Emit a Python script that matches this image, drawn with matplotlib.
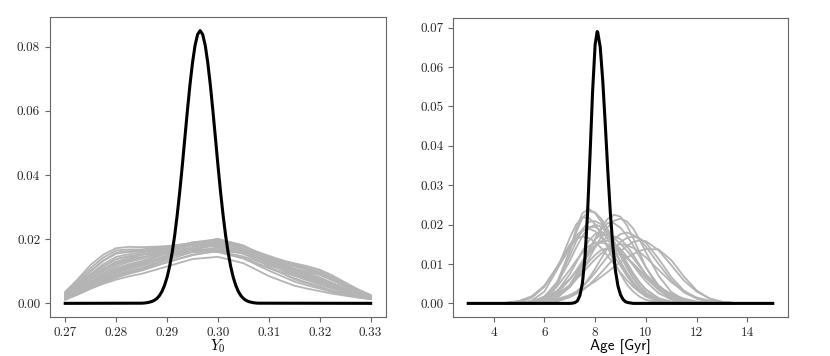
import numpy as np
import matplotlib
matplotlib.use("Agg")
import matplotlib.pyplot as plt

plt.rcParams['font.family'] = 'serif'
plt.rcParams['font.serif'] = ['cmr10', 'DejaVu Serif']
plt.rcParams['mathtext.fontset'] = 'cm'
plt.rcParams['axes.formatter.use_mathtext'] = True

# ---- left panel: Y0 ----
y0_grid = [0.270, 0.2725, 0.275, 0.2775, 0.280, 0.2825, 0.285, 0.290, 0.295,
           0.300, 0.305, 0.310, 0.315, 0.3175, 0.320, 0.3225, 0.325, 0.3275, 0.330]
# gray curves, values in units of 1e-3
y0_curves = [
    [3.6, 7.6, 12.0, 15.2, 17.2, 17.6, 17.5, 17.8, 18.2, 17.6, 15.8, 13.5, 11.5, 10.4, 9.0, 7.3, 5.2, 3.4, 2.0],
    [3.3, 7.0, 11.0, 14.3, 16.5, 16.8, 16.8, 17.8, 18.8, 18.5, 16.2, 12.8, 10.0, 8.9, 7.5, 6.1, 4.5, 3.0, 1.8],
    [3.0, 6.3, 10.0, 13.2, 15.5, 16.0, 16.2, 17.6, 18.8, 19.0, 17.0, 14.3, 12.5, 11.6, 10.5, 8.7, 6.5, 4.4, 2.6],
    [2.8, 5.8, 9.2, 12.2, 14.5, 15.3, 15.8, 17.2, 18.5, 18.2, 15.8, 12.2, 9.2, 8.1, 6.8, 5.5, 4.0, 2.7, 1.6],
    [2.5, 5.4, 8.6, 11.5, 13.8, 14.6, 15.2, 17.0, 19.0, 19.4, 17.0, 13.8, 10.2, 8.8, 7.2, 5.8, 4.2, 2.9, 1.7],
    [2.4, 5.0, 8.0, 10.8, 13.0, 14.1, 15.0, 17.0, 18.8, 19.8, 17.8, 14.2, 11.8, 10.8, 9.5, 7.8, 5.8, 3.9, 2.3],
    [2.2, 4.8, 7.6, 10.1, 12.2, 13.3, 14.2, 16.6, 19.0, 20.0, 18.0, 14.0, 10.5, 9.1, 7.6, 6.1, 4.4, 3.0, 1.7],
    [2.0, 4.4, 7.0, 9.5, 11.6, 12.9, 13.9, 16.3, 18.6, 19.2, 16.6, 12.4, 8.6, 7.2, 5.8, 4.6, 3.4, 2.4, 1.5],
    [2.0, 4.2, 6.6, 9.0, 11.0, 12.2, 13.2, 15.9, 18.2, 19.6, 17.8, 14.3, 12.0, 11.1, 10.0, 8.2, 6.0, 4.1, 2.4],
    [1.8, 3.9, 6.2, 8.5, 10.5, 11.8, 12.8, 15.6, 18.4, 20.1, 18.0, 14.0, 10.8, 9.5, 8.0, 6.4, 4.6, 3.1, 1.8],
    [1.7, 3.7, 6.0, 8.1, 10.0, 11.2, 12.2, 15.0, 17.6, 19.0, 16.8, 13.2, 9.8, 8.5, 7.0, 5.4, 3.8, 2.6, 1.5],
    [1.5, 3.4, 5.5, 7.6, 9.5, 10.6, 11.6, 14.5, 17.0, 18.4, 15.8, 11.5, 7.5, 6.2, 5.0, 3.8, 2.8, 2.0, 1.4],
    [1.5, 3.2, 5.2, 7.2, 9.0, 10.1, 11.0, 14.0, 16.8, 18.8, 17.6, 14.8, 12.2, 10.8, 9.2, 7.3, 5.4, 3.7, 2.2],
    [1.4, 3.1, 5.0, 6.9, 8.6, 9.8, 10.8, 13.5, 16.0, 17.4, 15.4, 12.0, 9.0, 7.9, 6.6, 5.2, 3.8, 2.6, 1.6],
    [1.3, 3.0, 4.8, 6.5, 8.0, 9.2, 10.2, 12.8, 15.2, 16.2, 14.0, 10.2, 6.8, 5.6, 4.6, 3.5, 2.6, 1.9, 1.4],
    [1.1, 2.8, 4.6, 6.1, 7.4, 8.4, 9.2, 11.5, 13.8, 14.5, 12.5, 8.5, 5.5, 4.6, 3.8, 3.0, 2.4, 1.8, 1.3],
    [1.6, 3.6, 5.8, 8.2, 10.2, 11.5, 12.5, 14.6, 16.0, 16.0, 14.0, 11.0, 8.6, 7.5, 6.2, 4.9, 3.6, 2.5, 1.5],
    [2.6, 5.6, 8.8, 11.6, 13.8, 14.7, 15.2, 16.0, 16.6, 16.2, 14.6, 12.0, 9.6, 8.5, 7.2, 5.7, 4.2, 2.9, 1.7],
    [1.2, 2.8, 4.6, 6.5, 8.2, 9.5, 10.5, 12.8, 15.0, 16.5, 15.6, 13.2, 10.4, 9.3, 8.0, 6.3, 4.6, 3.1, 1.8],
    [3.0, 6.4, 10.2, 13.4, 15.8, 16.3, 16.4, 16.9, 17.2, 16.4, 14.2, 11.0, 7.8, 6.5, 5.2, 4.0, 3.0, 2.1, 1.4],
    [2.2, 4.9, 7.8, 10.5, 12.6, 13.7, 14.4, 15.6, 16.6, 17.0, 15.6, 13.0, 10.8, 9.9, 8.8, 7.2, 5.4, 3.7, 2.1],
    [1.6, 3.5, 5.6, 7.9, 9.8, 11.1, 12.0, 14.5, 17.0, 18.0, 16.2, 12.8, 9.4, 8.1, 6.6, 5.0, 3.6, 2.5, 1.5],
]
# black curve
y0_black_x = [0.270, 0.2850, 0.2855, 0.2860, 0.2865, 0.2870, 0.2875, 0.2880,
              0.2885, 0.2890, 0.2895, 0.2900, 0.2905, 0.2910, 0.2915, 0.2920,
              0.2925, 0.2930, 0.2935, 0.2940, 0.2945, 0.2950, 0.2955, 0.2960,
              0.2965, 0.2970, 0.2975, 0.2980, 0.2985, 0.2990, 0.2995, 0.3000,
              0.3005, 0.3010, 0.3015, 0.3020, 0.3025, 0.3030, 0.3035, 0.3040,
              0.3045, 0.3050, 0.3055, 0.3060, 0.3065, 0.3070, 0.3075, 0.3080,
              0.330]
y0_black_y = [0.0, 0.00005, 0.0001, 0.00019, 0.00035, 0.00057, 0.00094, 0.0015,
              0.0024, 0.0037, 0.0056, 0.0081, 0.0115, 0.0158, 0.0212, 0.0276,
              0.0349, 0.0430, 0.0516, 0.0601, 0.0681, 0.0750, 0.0804, 0.0838,
              0.0850, 0.0838, 0.0804, 0.0750, 0.0681, 0.0601, 0.0516, 0.0430,
              0.0349, 0.0276, 0.0212, 0.0158, 0.0115, 0.0081, 0.0056, 0.0037,
              0.0024, 0.0015, 0.00094, 0.00057, 0.00035, 0.00019, 0.0001, 0.00005,
              0.0]

# ---- right panel: Age ----
age_grid = [4.5, 5.0, 5.5, 6.0, 6.5, 7.0, 7.25, 7.5, 7.75, 8.0, 8.25, 8.5, 8.75,
            9.0, 9.25, 9.5, 9.75, 10.0, 10.5, 11.0, 11.5, 12.0, 12.5, 13.0, 13.5]
age_curves = [
    [0, 0, 0.1, 0.8, 4.3, 13.4, 18.9, 22.9, 24.0, 22.9, 20.6, 17.5, 13.8, 10.4, 7.2, 4.8, 3.0, 1.7, 0.5, 0.1, 0, 0, 0, 0, 0],
    [0, 0, 0.2, 1.3, 5.3, 13.3, 18.0, 21.7, 23.4, 23.1, 21.4, 18.8, 15.6, 12.2, 9.0, 6.3, 4.2, 2.6, 0.9, 0.2, 0, 0, 0, 0, 0],
    [0, 0.1, 0.7, 3.0, 8.6, 16.6, 20.0, 21.8, 21.7, 20.1, 17.4, 14.1, 10.6, 7.5, 4.8, 3.0, 1.7, 0.9, 0.2, 0, 0, 0, 0, 0, 0],
    [0, 0.1, 0.4, 1.7, 5.4, 12.0, 15.7, 18.8, 20.7, 20.9, 20.0, 18.1, 15.6, 12.7, 9.9, 7.3, 5.1, 3.4, 1.3, 0.4, 0.1, 0, 0, 0, 0],
    [0, 0.1, 0.4, 1.7, 5.0, 10.8, 14.1, 17.1, 19.2, 20.0, 19.4, 17.6, 15.1, 12.1, 9.2, 6.5, 4.3, 2.7, 0.9, 0.2, 0, 0, 0, 0, 0],
    [0.1, 0.5, 1.7, 4.5, 9.3, 14.9, 17.2, 18.6, 19.0, 18.3, 16.8, 14.6, 12.0, 9.5, 7.0, 4.9, 3.4, 2.1, 0.7, 0.2, 0, 0, 0, 0, 0],
    [0, 0, 0.2, 0.9, 3.0, 7.4, 10.3, 13.3, 15.9, 17.6, 18.0, 17.2, 15.5, 13.1, 10.4, 7.7, 5.4, 3.6, 1.3, 0.4, 0.1, 0, 0, 0, 0],
    [0, 0, 0.2, 0.9, 2.6, 6.0, 8.3, 10.7, 13.0, 14.8, 15.8, 15.9, 15.2, 13.8, 11.9, 9.7, 7.5, 5.6, 2.6, 1.0, 0.3, 0.1, 0, 0, 0],
    [0, 0, 0.2, 0.6, 1.9, 4.6, 6.4, 8.5, 10.6, 12.3, 13.6, 14.0, 13.7, 12.8, 11.5, 9.9, 8.1, 6.4, 3.5, 1.6, 0.6, 0.2, 0.1, 0, 0],
    [0, 0, 0.1, 0.4, 1.6, 4.5, 6.8, 9.7, 13.0, 16.3, 19.4, 21.5, 22.5, 22.0, 19.8, 16.6, 12.9, 9.2, 3.8, 1.1, 0.2, 0, 0, 0, 0],
    [0, 0, 0.1, 0.5, 1.6, 4.1, 6.1, 8.5, 11.3, 14.2, 17.0, 19.4, 21.0, 21.5, 20.8, 19.0, 16.2, 13.0, 7.0, 2.9, 0.9, 0.2, 0, 0, 0],
    [0, 0, 0.1, 0.3, 1.4, 4.2, 6.7, 9.7, 13.1, 16.4, 19.0, 20.4, 20.3, 19.2, 17.2, 14.7, 11.9, 9.1, 4.6, 1.9, 0.6, 0.2, 0, 0, 0],
    [0, 0, 0.1, 0.3, 0.7, 2.0, 3.0, 4.2, 5.9, 7.8, 9.9, 12.0, 14.0, 15.6, 16.6, 17.0, 16.5, 15.4, 11.3, 6.7, 3.2, 1.3, 0.4, 0.1, 0],
    [0, 0.1, 0.3, 0.6, 1.1, 2.1, 2.8, 3.6, 4.6, 5.6, 6.8, 8.0, 9.3, 10.5, 11.6, 12.5, 13.3, 13.8, 13.7, 11.0, 6.8, 3.3, 1.2, 0.4, 0.1],
    [0, 0, 0.1, 0.2, 0.6, 1.6, 2.4, 3.3, 4.6, 6.2, 7.9, 9.7, 11.5, 13.2, 14.6, 15.6, 16.0, 15.8, 13.5, 9.7, 5.8, 3.0, 1.3, 0.4, 0.1],
    [0, 0, 0, 0.3, 1.4, 4.7, 7.4, 10.6, 13.8, 16.3, 17.5, 17.3, 16.5, 15.1, 13.4, 11.5, 9.4, 7.4, 4.2, 2.0, 0.8, 0.3, 0.1, 0, 0],
    [0, 0, 0, 0.1, 0.5, 1.6, 2.7, 4.2, 6.3, 8.8, 11.5, 14.1, 16.3, 17.6, 18.0, 17.4, 16.2, 14.4, 10.0, 5.9, 2.8, 1.2, 0.4, 0.1, 0],
    [0.1, 0.4, 1.4, 4.2, 9.2, 14.5, 16.4, 17.0, 16.6, 15.6, 14.0, 12.0, 9.9, 7.8, 5.9, 4.2, 2.9, 2.0, 0.7, 0.2, 0.1, 0, 0, 0, 0],
    [0, 0.1, 0.5, 1.7, 4.3, 8.5, 10.8, 12.9, 14.6, 15.4, 15.4, 15.0, 14.1, 12.9, 11.5, 10.1, 8.5, 6.9, 4.3, 2.4, 1.2, 0.5, 0.2, 0.1, 0],
    [0, 0.1, 0.4, 1.0, 2.4, 4.6, 6.1, 7.7, 9.5, 11.2, 12.7, 13.9, 14.7, 15.0, 14.8, 14.1, 13.0, 11.7, 8.5, 5.4, 3.0, 1.5, 0.7, 0.3, 0.1],
    [0.2, 0.6, 1.8, 4.4, 8.7, 13.9, 16.4, 18.3, 19.3, 19.4, 18.3, 16.3, 13.6, 10.6, 7.8, 5.4, 3.5, 2.1, 0.7, 0.2, 0, 0, 0, 0, 0],
    [0, 0.2, 0.5, 1.4, 3.2, 6.2, 8.2, 10.3, 12.4, 14.4, 15.8, 16.8, 17.0, 16.3, 14.6, 12.3, 9.8, 7.3, 3.4, 1.2, 0.3, 0.1, 0, 0, 0],
]
age_black_x = [3.0, 7.0, 7.1, 7.2, 7.3, 7.4, 7.5, 7.6, 7.7, 7.8, 7.9, 8.0, 8.08,
               8.1, 8.2, 8.3, 8.4, 8.5, 8.6, 8.7, 8.8, 8.9, 9.0, 9.1, 9.2, 9.3,
               9.4, 9.5, 15.0]
age_black_y = [0.0, 0.0, 0.00005, 0.0002, 0.0006, 0.0020, 0.0052, 0.0117, 0.0227,
               0.0378, 0.0538, 0.0657, 0.0690, 0.0689, 0.0651, 0.0566, 0.0454,
               0.0336, 0.0229, 0.0144, 0.0083, 0.0044, 0.0022, 0.0010, 0.0004,
               0.0002, 0.0001, 0.0, 0.0]

fig = plt.figure(figsize=(8.3, 3.56), dpi=100)
ax1 = fig.add_axes([0.0602, 0.1096, 0.4048, 0.8427])
ax2 = fig.add_axes([0.5458, 0.1096, 0.4036, 0.8399])

gray = '#b4b4b4'
for c in y0_curves:
    ax1.plot(y0_grid, np.array(c) * 1e-3, color=gray, lw=1.3)
ax1.plot(y0_black_x, y0_black_y, color='black', lw=2.2)
ax1.set_xticks([0.27, 0.28, 0.29, 0.30, 0.31, 0.32, 0.33])
ax1.set_xticklabels(['0.27', '0.28', '0.29', '0.30', '0.31', '0.32', '0.33'])
ax1.set_yticks([0.0, 0.02, 0.04, 0.06, 0.08])
ax1.set_yticklabels(['0.00', '0.02', '0.04', '0.06', '0.08'])
ax1.set_xlabel('$Y_0$', fontsize=11, labelpad=-1)

for c in age_curves:
    ax2.plot(age_grid, np.array(c) * 1e-3, color=gray, lw=1.3)
ax2.plot(age_black_x, age_black_y, color='black', lw=2.2)
ax2.set_xticks([4, 6, 8, 10, 12, 14])
ax2.set_xticklabels(['4', '6', '8', '10', '12', '14'])
ax2.set_yticks([0.0, 0.01, 0.02, 0.03, 0.04, 0.05, 0.06, 0.07])
ax2.set_yticklabels(['0.00', '0.01', '0.02', '0.03', '0.04', '0.05', '0.06', '0.07'])
ax2.set_xlim(2.4, 15.6)
ax2.set_xlabel('Age [Gyr]', family=['cmss10', 'DejaVu Sans'], fontsize=11, labelpad=0)

for ax in (ax1, ax2):
    for s in ax.spines.values():
        s.set_color('0.4')
    ax.tick_params(colors='0.15', labelsize=9.5, length=3.5, width=0.8)
    ax.tick_params(axis='both', color='0.4')

fig.savefig('out.png', dpi=100)
